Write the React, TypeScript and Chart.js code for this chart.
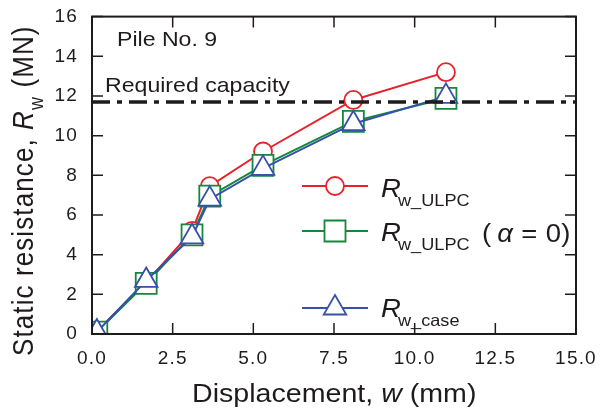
import React, { useEffect, useRef } from 'react';
import { Chart, registerables } from 'chart.js';

Chart.register(...registerables);

// ---- data ----
const displacement = [0.15, 1.68, 3.1, 3.65, 5.3, 8.1, 10.97];
const rUlpc = [0.15, 2.6, 5.2, 7.45, 9.2, 11.8, 13.2];
const rUlpcAlpha0 = [0.1, 2.55, 5.0, 6.95, 8.5, 10.72, 11.88];
const rCase = [0.1, 2.7, 4.9, 6.8, 8.35, 10.6, 11.98];
const requiredCapacity = 11.7;
const requiredX = [0, 15];
const xTickValues = [0, 2.5, 5, 7.5, 10, 12.5, 15];
const yTickValues = [0, 2, 4, 6, 8, 10, 12, 14, 16];

const RED = '#e8212b';
const GREEN = '#12883c';
const BLUE = '#3552a8';
const INK = '#1f1b1c';
const FONT = '"Liberation Sans", Arial, sans-serif';
const STRETCH = 1.1;

function pts(xs: number[], ys: number[]) {
  return xs.map((x, i) => ({ x, y: ys[i] }));
}

type Run = { text: string; size: number; italic?: boolean; dy?: number; x?: number };

function drawRuns(ctx: CanvasRenderingContext2D, runs: Run[], x0: number, y0: number, spacing = 0) {
  let x = x0;
  for (const r of runs) {
    if (r.x !== undefined) x = r.x;
    ctx.save();
    ctx.translate(x, y0 + (r.dy || 0));
    ctx.scale(STRETCH, 1);
    (ctx as any).letterSpacing = spacing + 'px';
    ctx.font = `${r.italic ? 'italic ' : ''}${r.size}px ${FONT}`;
    ctx.fillStyle = INK;
    ctx.textBaseline = 'alphabetic';
    ctx.textAlign = 'left';
    ctx.fillText(r.text, 0, 0);
    const w = ctx.measureText(r.text).width * STRETCH;
    ctx.restore();
    x += w;
  }
}

const decorPlugin = {
  id: 'decor',
  beforeDraw(chart: any) {
    (chart.ctx as any).letterSpacing = '1.2px';
  },
  afterDraw(chart: any) {
    const ctx: CanvasRenderingContext2D = chart.ctx;
    const { left, right, top, bottom } = chart.chartArea;
    const xs = chart.scales.x;
    const ys = chart.scales.y;
    ctx.save();
    (ctx as any).letterSpacing = '0px';
    // frame
    ctx.strokeStyle = INK;
    ctx.lineWidth = 2;
    ctx.strokeRect(left, top, right - left, bottom - top);
    // inner ticks
    ctx.lineWidth = 1.5;
    const tl = 11;
    ctx.beginPath();
    for (const v of xTickValues) {
      const px = xs.getPixelForValue(v);
      ctx.moveTo(px, bottom);
      ctx.lineTo(px, bottom - tl);
      ctx.moveTo(px, top);
      ctx.lineTo(px, top + tl);
    }
    for (const v of yTickValues) {
      const py = ys.getPixelForValue(v);
      ctx.moveTo(left, py);
      ctx.lineTo(left + tl, py);
      ctx.moveTo(right, py);
      ctx.lineTo(right - tl, py);
    }
    ctx.stroke();

    // annotations
    drawRuns(ctx, [{ text: 'Pile No. 9', size: 21 }], 117, 46);
    drawRuns(ctx, [{ text: 'Required capacity', size: 21 }], 105, 91.5);

    // x title
    drawRuns(
      ctx,
      [
        { text: 'Displacement, ', size: 26 },
        { text: 'w', size: 26, italic: true },
        { text: ' (mm)', size: 26 },
      ],
      192,
      402
    );

    // y title (rotated)
    ctx.save();
    ctx.translate(33, 356);
    ctx.scale(STRETCH, 1);
    ctx.rotate(-Math.PI / 2);
    ctx.fillStyle = INK;
    (ctx as any).letterSpacing = '1.1px';
    const yRuns: Run[] = [
      { text: 'Static resistance, ', size: 26 },
      { text: 'R', size: 26, italic: true },
      { text: 'w', size: 18, dy: 9 },
      { text: ' (MN)', size: 26 },
    ];
    let cx = 0;
    for (const r of yRuns) {
      ctx.font = `${r.italic ? 'italic ' : ''}${r.size}px ${FONT}`;
      ctx.fillText(r.text, cx, r.dy || 0);
      cx += ctx.measureText(r.text).width;
    }
    ctx.restore();

    // legend
    const rows = [
      { y: 186, base: 196.5, color: RED, style: 'circle', sub: 'w_ULPC' },
      { y: 231, base: 240.5, color: GREEN, style: 'rect', sub: 'w_ULPC' },
      { y: 308, base: 317, color: BLUE, style: 'triangle', sub: 'w_case' },
    ];
    for (const row of rows) {
      ctx.strokeStyle = row.color;
      ctx.lineWidth = 2;
      ctx.beginPath();
      ctx.moveTo(302, row.y);
      ctx.lineTo(368, row.y);
      ctx.stroke();
      ctx.fillStyle = '#fff';
      ctx.lineWidth = 1.8;
      ctx.beginPath();
      const mx = 335;
      if (row.style === 'circle') {
        ctx.arc(mx, row.y, 9, 0, Math.PI * 2);
      } else if (row.style === 'rect') {
        ctx.rect(mx - 10.5, row.y - 10.5, 21, 21);
      } else {
        const r = 13;
        ctx.moveTo(mx, row.y - r);
        ctx.lineTo(mx + r * 0.866, row.y + r / 2);
        ctx.lineTo(mx - r * 0.866, row.y + r / 2);
        ctx.closePath();
      }
      ctx.fill();
      ctx.stroke();
      drawRuns(
        ctx,
        [
          { text: 'R', size: 25, italic: true, x: 381 },
          { text: row.sub, size: 16.5, dy: 9, x: 398 },
        ],
        381,
        row.base
      );
    }
    drawRuns(
      ctx,
      [
        { text: '(\u2009', size: 25 },
        { text: 'α', size: 25, italic: true },
        { text: ' = 0)', size: 25 },
      ],
      482,
      242,
      0.3
    );
    ctx.restore();
  },
};

export default function App() {
  const ref = useRef<HTMLCanvasElement | null>(null);
  useEffect(() => {
    if (!ref.current) return;
    const lineBase = {
      type: 'line' as const,
      tension: 0,
      borderWidth: 2,
      pointBackgroundColor: '#fff',
      pointBorderWidth: 1.8,
      fill: false,
    };
    const chart = new Chart(ref.current, {
      type: 'line',
      data: {
        datasets: [
          {
            type: 'line',
            label: 'Required capacity',
            data: requiredX.map((x) => ({ x, y: requiredCapacity })),
            borderColor: '#1c1c1c',
            borderWidth: 3.5,
            borderDash: [18, 7, 5, 7],
            pointRadius: 0,
            fill: false,
          },
          {
            ...lineBase,
            label: 'Rw_case',
            data: pts(displacement, rCase),
            borderColor: BLUE,
            pointBorderColor: BLUE,
            pointStyle: 'triangle',
            pointRadius: 13,
          },
          {
            ...lineBase,
            label: 'Rw_ULPC (α = 0)',
            data: pts(displacement, rUlpcAlpha0),
            borderColor: GREEN,
            pointBorderColor: GREEN,
            pointStyle: 'rect',
            pointRadius: 14.8,
          },
          {
            ...lineBase,
            label: 'Rw_ULPC',
            data: pts(displacement, rUlpc),
            borderColor: RED,
            pointBorderColor: RED,
            pointStyle: 'circle',
            pointRadius: 9,
          },
        ] as any,
      },
      options: {
        responsive: false,
        animation: false,
        events: [],
        layout: { padding: { top: 13, right: 33, left: 0, bottom: 0 } },
        plugins: { legend: { display: false }, tooltip: { enabled: false } },
        scales: {
          x: {
            type: 'linear',
            min: 0,
            max: 15,
            grid: { display: false, drawTicks: false },
            border: { display: false },
            afterFit: (s: any) => {
              s.height = 80;
              s.paddingLeft = 0;
              s.paddingRight = 0;
              s.paddingTop = 0;
              s.paddingBottom = 0;
            },
            afterBuildTicks: (s: any) => {
              s.ticks = xTickValues.map((v) => ({ value: v }));
            },
            ticks: {
              padding: 13,
              color: INK,
              font: { family: FONT, size: 19 },
              maxRotation: 0,
              autoSkip: false,
              callback: (v: any) => Number(v).toFixed(1),
            },
          },
          y: {
            type: 'linear',
            min: 0,
            max: 16,
            grid: { display: false, drawTicks: false },
            border: { display: false },
            afterFit: (s: any) => {
              s.width = 92;
              s.paddingTop = 0;
              s.paddingBottom = 0;
              s.paddingLeft = 0;
              s.paddingRight = 0;
            },
            afterBuildTicks: (s: any) => {
              s.ticks = yTickValues.map((v) => ({ value: v }));
            },
            ticks: {
              padding: 14,
              color: INK,
              font: { family: FONT, size: 19 },
              autoSkip: false,
              callback: (v: any) => String(v),
            },
          },
        },
      },
      plugins: [decorPlugin],
    });
    return () => chart.destroy();
  }, []);
  return (
    <div style={{ position: 'fixed', left: 0, top: 0, width: 609, height: 414, background: '#fff' }}>
      <canvas ref={ref} width={609} height={414} style={{ display: 'block' }} />
    </div>
  );
}
